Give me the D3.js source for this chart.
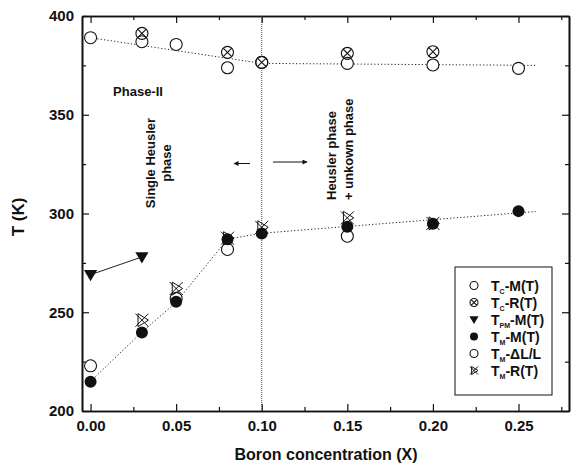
<!DOCTYPE html>
<html>
<head>
<meta charset="utf-8">
<script src="https://cdn.jsdelivr.net/npm/d3@7"></script>
<style>
  body { margin: 0; background: #fff; }
  svg { font-family: "Liberation Sans", Arial, sans-serif; }
  .axis path, .axis line { stroke: #111; }
  .axis text { font-size: 15px; font-weight: bold; fill: #111; }
</style>
</head>
<body>
<div id="chart"></div>
<script>
const width = 573;
const height = 470;

// data: [boron concentration X, temperature K]
const tcM = [[0, 389], [0.03, 387], [0.05, 385.6], [0.08, 373.8], [0.10, 376.5], [0.15, 376], [0.20, 375.2], [0.25, 373.5]];
const tcR = [[0.03, 391.2], [0.08, 381.6], [0.10, 376.5], [0.15, 381.1], [0.20, 381.9]];
const tpmM = [[0, 269], [0.03, 278]];
const tmM = [[0, 214.8], [0.03, 239.8], [0.05, 255.3], [0.08, 287], [0.10, 289.9], [0.15, 293.3], [0.20, 294.8], [0.25, 301.2]];
const tmDL = [[0, 222.9], [0.05, 257], [0.08, 281.8], [0.15, 288.5]];
const tmR = [[0.03, 246], [0.05, 262], [0.08, 287.5], [0.10, 293], [0.15, 297.8], [0.20, 295]];
const fitUpper = [[0, 389], [0.10, 376], [0.26, 375]];
const fitLower = [[0, 215], [0.03, 240], [0.05, 255], [0.08, 287], [0.10, 290], [0.26, 301]];

const xTicks = [0, 0.05, 0.10, 0.15, 0.20, 0.25];
const xMinor = [0.025, 0.075, 0.125, 0.175, 0.225, 0.275];
const yTicks = [200, 250, 300, 350, 400];
const yMinor = [225, 275, 325, 375];

const legendItems = [
  { sym: 'open', main: 'T', sub: 'C', rest: '-M(T)' },
  { sym: 'cross', main: 'T', sub: 'C', rest: '-R(T)' },
  { sym: 'tri', main: 'T', sub: 'PM', rest: '-M(T)' },
  { sym: 'filled', main: 'T', sub: 'M', rest: '-M(T)' },
  { sym: 'open', main: 'T', sub: 'M', rest: '-\u0394L/L' },
  { sym: 'bow', main: 'T', sub: 'M', rest: '-R(T)' }
];

const pLeft = 82, pRight = 569, pTop = 16, pBottom = 411;

const x = d3.scaleLinear().domain([-0.005, 0.2795]).range([pLeft, pRight]);
const y = d3.scaleLinear().domain([200, 400]).range([pBottom, pTop]);

const svg = d3.select('#chart')
  .append('svg')
  .attr('width', width)
  .attr('height', height);

// axes, ticks pointing inward
function addAxis(axis, tr, labels) {
  const g = svg.append('g').attr('class', 'axis').attr('transform', tr).call(axis);
  g.select('.domain').attr('stroke-width', 1.6);
  g.selectAll('.tick line').attr('stroke-width', 1.2);
  if (!labels) g.selectAll('text').remove();
  return g;
}
const fmtX = d3.format('.2f');
addAxis(d3.axisBottom(x).tickValues(xTicks).tickFormat(fmtX).tickSize(-7).tickSizeOuter(0).tickPadding(9), `translate(0,${pBottom})`, true);
addAxis(d3.axisBottom(x).tickValues(xMinor).tickFormat('').tickSize(-4).tickSizeOuter(0), `translate(0,${pBottom})`, false);
addAxis(d3.axisTop(x).tickValues(xTicks).tickSize(-7).tickSizeOuter(0), `translate(0,${pTop})`, false);
addAxis(d3.axisTop(x).tickValues(xMinor).tickSize(-4).tickSizeOuter(0), `translate(0,${pTop})`, false);
addAxis(d3.axisLeft(y).tickValues(yTicks).tickFormat(d3.format('d')).tickSize(-7).tickSizeOuter(0).tickPadding(8), `translate(${pLeft},0)`, true);
addAxis(d3.axisLeft(y).tickValues(yMinor).tickFormat('').tickSize(-4).tickSizeOuter(0), `translate(${pLeft},0)`, false);
addAxis(d3.axisRight(y).tickValues(yTicks).tickSize(-7).tickSizeOuter(0), `translate(${pRight},0)`, false);
addAxis(d3.axisRight(y).tickValues(yMinor).tickSize(-4).tickSizeOuter(0), `translate(${pRight},0)`, false);

// phase boundary
svg.append('line')
  .attr('x1', x(0.10)).attr('x2', x(0.10))
  .attr('y1', pTop).attr('y2', pBottom)
  .attr('stroke', '#444').attr('stroke-width', 1)
  .attr('stroke-dasharray', '1,1');

const line = d3.line().x(d => x(d[0])).y(d => y(d[1]));

svg.selectAll('.fit')
  .data([fitUpper, fitLower])
  .enter()
  .append('path')
  .attr('class', 'fit')
  .attr('d', line)
  .attr('fill', 'none')
  .attr('stroke', '#222')
  .attr('stroke-width', 1)
  .attr('stroke-dasharray', '1.2,2.2');

svg.append('path')
  .attr('d', line(tpmM))
  .attr('fill', 'none')
  .attr('stroke', '#222')
  .attr('stroke-width', 1);

// marker drawing
function marker(g, sym, s) {
  if (sym === 'open') {
    g.append('circle').attr('r', s).attr('fill', '#fff').attr('stroke', '#111').attr('stroke-width', 1.1);
  } else if (sym === 'filled') {
    g.append('circle').attr('r', s).attr('fill', '#111');
  } else if (sym === 'cross') {
    const k = s * 0.72;
    g.append('circle').attr('r', s).attr('fill', 'none').attr('stroke', '#111').attr('stroke-width', 1.1);
    g.append('path').attr('d', `M${-k},${-k}L${k},${k}M${k},${-k}L${-k},${k}`).attr('stroke', '#111').attr('stroke-width', 1.1);
  } else if (sym === 'tri') {
    g.append('path').attr('d', `M${-s * 1.1},${-s * 0.8}L${s * 1.1},${-s * 0.8}L0,${s * 1.1}Z`).attr('fill', '#111');
  } else if (sym === 'bow') {
    g.append('path')
      .attr('d', `M${-s},${-s}L${s},${s}M${s},${-s}L${-s},${s}M${-s * 0.6},${-s}L${-s * 0.6},${s}L${s},${0}Z`)
      .attr('fill', 'none').attr('stroke', '#111').attr('stroke-width', 1);
  }
}

function series(data, sym, s) {
  svg.append('g').selectAll('g')
    .data(data)
    .enter()
    .append('g')
    .attr('transform', d => `translate(${x(d[0])},${y(d[1])})`)
    .each(function () { marker(d3.select(this), sym, s); });
}

series(tcM, 'open', 6);
series(tcR, 'cross', 6);
series(tpmM, 'tri', 6);
series(tmDL, 'open', 6);
series(tmM, 'filled', 6);
series(tmR, 'bow', 6.5);

// annotations
const bold = sel => sel.attr('font-weight', 'bold').attr('fill', '#111');

svg.append('text').attr('x', 138).attr('y', 96).attr('text-anchor', 'middle')
  .attr('font-size', '13px').call(bold).text('Phase-II');

svg.append('text').attr('transform', 'translate(155,163) rotate(-90)')
  .attr('text-anchor', 'middle').attr('font-size', '13px').call(bold).text('Single Heusler');
svg.append('text').attr('transform', 'translate(171,163) rotate(-90)')
  .attr('text-anchor', 'middle').attr('font-size', '13px').call(bold).text('phase');

svg.append('text').attr('transform', 'translate(336,200) rotate(-90)')
  .attr('text-anchor', 'start').attr('font-size', '13px').call(bold).text('Heusler phase');
svg.append('text').attr('transform', 'translate(353,200) rotate(-90)')
  .attr('text-anchor', 'start').attr('font-size', '13px').call(bold).text('+ unkown phase');

svg.append('defs').append('marker')
  .attr('id', 'head')
  .attr('viewBox', '0 0 10 10')
  .attr('refX', 9).attr('refY', 5)
  .attr('markerWidth', 7).attr('markerHeight', 5)
  .attr('orient', 'auto')
  .append('path').attr('d', 'M0,0L10,5L0,10Z').attr('fill', '#111');

svg.append('line').attr('x1', 250).attr('x2', 234).attr('y1', 163.5).attr('y2', 163.5)
  .attr('stroke', '#111').attr('stroke-width', 1).attr('marker-end', 'url(#head)');
svg.append('line').attr('x1', 273).attr('x2', 307).attr('y1', 162).attr('y2', 162)
  .attr('stroke', '#111').attr('stroke-width', 1).attr('marker-end', 'url(#head)');

// axis titles
svg.append('text').attr('transform', 'translate(24,217) rotate(-90)')
  .attr('text-anchor', 'middle').attr('font-size', '17px').call(bold).text('T (K)');
svg.append('text').attr('x', 326).attr('y', 460)
  .attr('text-anchor', 'middle').attr('font-size', '16px').call(bold).text('Boron concentration (X)');

// legend
const legend = svg.append('g');
legend.append('rect')
  .attr('x', 455).attr('y', 267).attr('width', 97).attr('height', 128)
  .attr('fill', '#fff').attr('stroke', '#111').attr('stroke-width', 1);

const rows = legend.selectAll('.row')
  .data(legendItems)
  .enter()
  .append('g')
  .attr('class', 'row')
  .attr('transform', (d, i) => `translate(0,${285.5 + i * 17})`);

rows.append('g').attr('transform', 'translate(474,0)')
  .each(function (d) { marker(d3.select(this), d.sym, d.sym === 'tri' ? 4.2 : 4); });

const lt = rows.append('text')
  .attr('x', 491).attr('y', 5)
  .attr('font-size', '14px').call(bold);
lt.append('tspan').text(d => d.main);
lt.append('tspan').attr('font-size', '7px').attr('dy', 3).text(d => d.sub);
lt.append('tspan').attr('dy', -3).text(d => d.rest);
</script>
</body>
</html>
